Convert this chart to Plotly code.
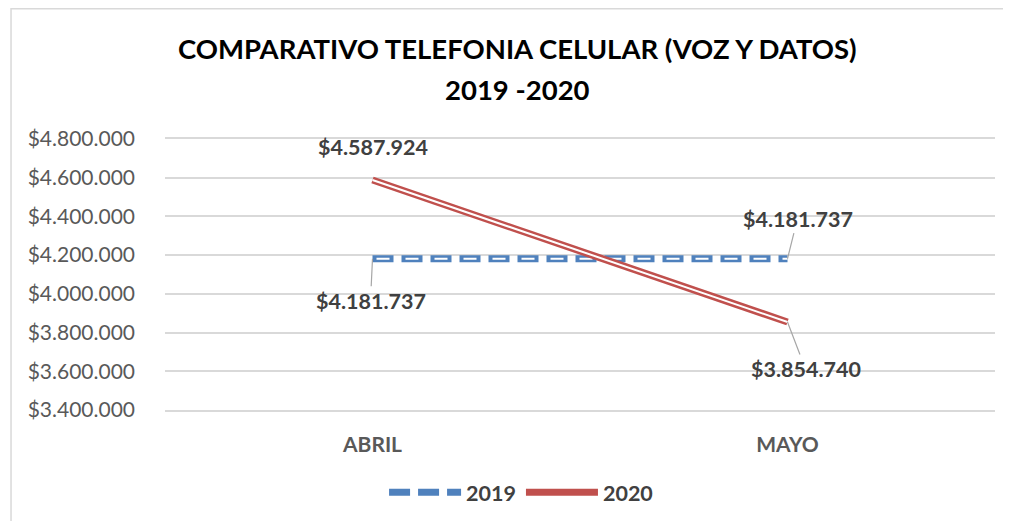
import plotly.graph_objects as go

categories = ["ABRIL", "MAYO"]
series_names = ["2019", "2020"]
values_2019 = [4181737, 4181737]
values_2020 = [4587924, 3854740]
y_ticks = [3400000, 3600000, 3800000, 4000000, 4200000, 4400000, 4600000, 4800000]
title_lines = ["COMPARATIVO TELEFONIA CELULAR (VOZ Y DATOS)", "2019 -2020"]

BLUE = "#4F81BD"
RED = "#C0504D"
FONT = "Lato"
GREY = "#595959"
LBL = "#404040"


def fmt(v):
    return "$" + f"{v:,}".replace(",", ".")


fig = go.Figure()
# 2019 : dashed outlined line
fig.add_trace(go.Scatter(x=categories, y=values_2019, mode="lines", name=series_names[0],
                         line=dict(color=BLUE, width=7, dash="21px,8px"), hoverinfo="skip"))
fig.add_trace(go.Scatter(x=categories, y=values_2019, mode="lines", showlegend=False,
                         line=dict(color="white", width=2, dash="0px,4px,13px,12px"), hoverinfo="skip"))
# 2020 : solid outlined line
fig.add_trace(go.Scatter(x=categories, y=values_2020, mode="lines", name=series_names[1],
                         line=dict(color=RED, width=7), hoverinfo="skip"))
fig.add_trace(go.Scatter(x=categories, y=values_2020, mode="lines", showlegend=False,
                         line=dict(color="white", width=2), hoverinfo="skip"))

label_offsets = {
    (0, 0): (-2, 42, True),
    (0, 1): (10, -40, True),
    (1, 0): (0, -33, False),
    (1, 1): (18, 47, True),
}
for si, vals in enumerate([values_2019, values_2020]):
    for ci, v in enumerate(vals):
        ax, ay, show = label_offsets[(si, ci)]
        fig.add_annotation(x=categories[ci], y=v, text="<b>" + fmt(v) + "</b>",
                           showarrow=True, ax=ax, ay=ay, arrowhead=0, arrowwidth=1.2,
                           arrowcolor="#A6A6A6" if show else "rgba(0,0,0,0)",
                           font=dict(family=FONT, size=21.5, color=LBL))

# title lines
for txt, yy in zip(title_lines, [1.333, 1.184]):
    fig.add_annotation(xref="paper", yref="paper", x=0.4247, y=yy, xanchor="center", yanchor="middle",
                       text="<b>" + txt + "</b>", showarrow=False,
                       font=dict(family=FONT, size=27.5, color="black"))

# outer chart frame
fig.add_shape(type="rect", xref="paper", yref="paper", x0=-0.1855, y0=-0.6, x1=1.05, y1=1.481,
              line=dict(color="#D9D9D9", width=1.5), fillcolor="rgba(0,0,0,0)", layer="below")

fig.update_layout(
    width=995, height=513,
    margin=dict(l=157, r=8, t=131, b=109),
    paper_bgcolor="white", plot_bgcolor="white",
    xaxis=dict(range=[-0.5, 1.5], showgrid=False, showline=True, mirror=True,
               linecolor="#D9D9D9", linewidth=1.5,
               ticks="", tickfont=dict(family=FONT, size=21, color=GREY, weight="bold"),
               zeroline=False, ticklabelstandoff=15),
    yaxis=dict(range=[3400000, 4800000], tickvals=y_ticks, ticktext=[fmt(t) for t in y_ticks],
               showgrid=True, gridcolor="#D9D9D9", gridwidth=1.5, zeroline=False, ticks="",
               tickfont=dict(family=FONT, size=21, color=GREY), showline=False, ticklabelstandoff=29),
    legend=dict(orientation="h", x=0.429, xanchor="center", y=-0.304, yanchor="middle",
                font=dict(family=FONT, size=21.5, color=LBL, weight="bold"), itemwidth=72,
                traceorder="normal"),
    showlegend=True,
)

fig.write_html("out.html")
